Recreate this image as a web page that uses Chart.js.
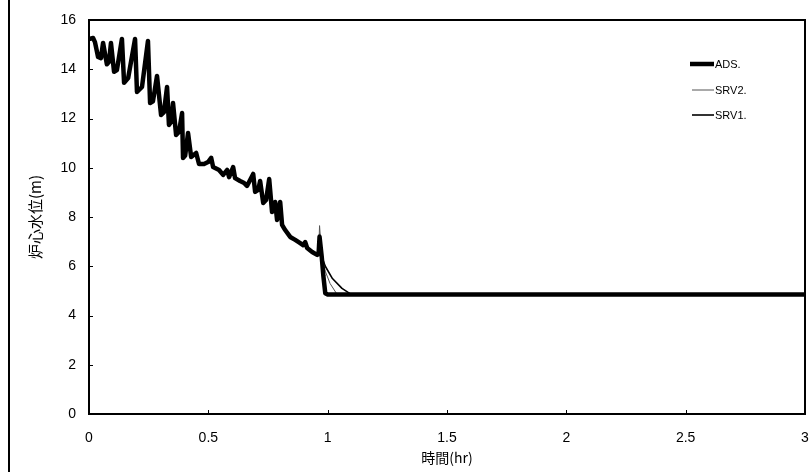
<!DOCTYPE html>
<html><head><meta charset="utf-8">
<script src="https://cdn.jsdelivr.net/npm/chart.js@4/dist/chart.umd.min.js"></script>
<style>html,body{margin:0;padding:0;background:#fff}#wrap{width:811px;height:472px;position:relative}</style>
</head><body><div id="wrap"><canvas id="c" width="811" height="472"></canvas></div>
<script>
// Shared part of the core water level curve (time in hr, level in m)
const commonTime = [0.000,0.017,0.025,0.038,0.050,0.059,0.075,0.084,0.092,0.105,0.117,0.138,0.147,0.164,0.193,0.201,0.222,0.247,0.256,0.268,0.285,0.302,0.314,0.327,0.335,0.344,0.352,0.365,0.377,0.390,0.394,0.403,0.415,0.428,0.449,0.461,0.482,0.499,0.512,0.520,0.545,0.562,0.579,0.587,0.604,0.612,0.633,0.650,0.662,0.688,0.696,0.709,0.717,0.730,0.742,0.755,0.767,0.780,0.788,0.801,0.809,0.822,0.843,0.864,0.885,0.897,0.906,0.914,0.935,0.956,0.962];
const commonLevel = [15.23,15.27,15.10,14.50,14.45,15.07,14.20,14.30,15.07,13.90,13.97,15.23,13.45,13.64,15.23,13.08,13.28,15.15,12.63,12.70,13.73,12.14,12.26,13.28,11.74,11.86,12.63,11.33,11.45,12.22,10.40,10.50,11.41,10.44,10.60,10.15,10.15,10.23,10.40,10.03,9.91,9.71,9.91,9.62,10.03,9.58,9.46,9.38,9.26,9.75,9.02,9.10,9.46,8.57,8.69,9.54,8.20,8.61,7.88,8.61,7.68,7.47,7.19,7.07,6.94,6.86,6.98,6.74,6.58,6.46,6.50];
// Branches after the depressurization starts
const adsTime  = [0.966,0.975,0.982,0.990,1.000,3.000];
const adsLevel = [7.20,6.40,5.60,4.90,4.85,4.85];
const srv2Time  = [0.966,0.975,0.990,1.010,1.040,3.000];
const srv2Level = [7.65,6.40,5.80,5.30,4.85,4.85];
const srv1Time  = [0.966,0.975,0.990,1.020,1.060,1.100,3.000];
const srv1Level = [7.30,6.40,6.00,5.50,5.10,4.85,4.85];
const seriesNames = ['ADS.','SRV2.','SRV1.'];
const xTicks = [0,0.5,1,1.5,2,2.5,3];
const yTicks = [0,2,4,6,8,10,12,14,16];

function pts(t1,l1,t2,l2){
  const a=[];
  for(let i=0;i<t1.length;i++) a.push({x:t1[i],y:l1[i]});
  for(let i=0;i<t2.length;i++) a.push({x:t2[i],y:l2[i]});
  return a;
}

const styles = [
  {color:'#000', width:4.5},
  {color:'#555', width:1},
  {color:'#000', width:1.6}
];

const frame = {
  id:'frame',
  afterDraw(chart){
    const ctx=chart.ctx, a=chart.chartArea;
    ctx.save();
    ctx.strokeStyle='#000';
    ctx.lineWidth=2;
    ctx.strokeRect(a.left,a.top,a.right-a.left,a.bottom-a.top);
    // outer frame left line
    ctx.beginPath(); ctx.moveTo(9,0); ctx.lineTo(9,472); ctx.stroke();
    // inward tick marks
    ctx.lineWidth=1;
    const xs=chart.scales.x, ys=chart.scales.y;
    xTicks.forEach(v=>{const p=Math.round(xs.getPixelForValue(v))+0.5;ctx.beginPath();ctx.moveTo(p,a.bottom);ctx.lineTo(p,a.bottom-4);ctx.stroke();});
    yTicks.forEach(v=>{const p=Math.round(ys.getPixelForValue(v))+0.5;ctx.beginPath();ctx.moveTo(a.left,p);ctx.lineTo(a.left+4,p);ctx.stroke();});
    // legend
    const ly=[64,90,115];
    ctx.font='11px "Liberation Sans", Arial, sans-serif';
    ctx.textBaseline='middle';
    ctx.fillStyle='#000';
    chart.data.datasets.forEach((d,i)=>{
      ctx.strokeStyle=d.borderColor; ctx.lineWidth=d.borderWidth;
      ctx.beginPath(); ctx.moveTo(i===0?690:692,ly[i]); ctx.lineTo(714,ly[i]); ctx.stroke();
      ctx.fillText(d.label,715,ly[i]+1);
    });
    ctx.restore();
  }
};

new Chart(document.getElementById('c'),{
  type:'line',
  data:{datasets:[
    {label:seriesNames[0],data:pts(commonTime,commonLevel,adsTime,adsLevel),borderColor:styles[0].color,borderWidth:styles[0].width},
    {label:seriesNames[1],data:pts(commonTime,commonLevel,srv2Time,srv2Level),borderColor:styles[1].color,borderWidth:styles[1].width},
    {label:seriesNames[2],data:pts(commonTime,commonLevel,srv1Time,srv1Level),borderColor:styles[2].color,borderWidth:styles[2].width}
  ].map(d=>Object.assign(d,{pointRadius:0,tension:0,fill:false,borderJoinStyle:'round',borderCapStyle:'round'}))},
  plugins:[frame],
  options:{
    responsive:false, animation:false, devicePixelRatio:1,
    layout:{padding:{left:10,top:20,right:6,bottom:0}},
    plugins:{legend:{display:false},tooltip:{enabled:false}},
    scales:{
      x:{type:'linear',min:0,max:3,
        afterBuildTicks(s){s.ticks=xTicks.map(v=>({value:v}));},
        afterFit(s){s.height=58;s.paddingLeft=0;s.paddingRight=0;},
        grid:{display:false,drawTicks:false},border:{display:false},
        ticks:{padding:16,color:'#000',font:{family:'"Liberation Sans Narrow","Liberation Sans",Arial',size:14},maxRotation:0,autoSkip:false,callback:v=>String(v)},
        title:{display:true,text:'時間(hr)',color:'#000',font:{family:'"Noto Sans CJK JP",sans-serif',size:14},padding:{top:0,bottom:6}}
      },
      y:{type:'linear',min:0,max:16,
        afterBuildTicks(s){s.ticks=yTicks.map(v=>({value:v}));},
        afterFit(s){s.width=79;s.paddingTop=0;s.paddingBottom=0;},
        grid:{display:false,drawTicks:false},border:{display:false},
        ticks:{padding:13,color:'#000',font:{family:'"Liberation Sans Narrow","Liberation Sans",Arial',size:14},callback:v=>String(v)},
        title:{display:true,text:'炉心水位(m)',color:'#000',font:{family:'"Noto Sans CJK JP",sans-serif',size:15},padding:{top:16,bottom:0}}
      }
    }
  }
});
</script></body></html>
